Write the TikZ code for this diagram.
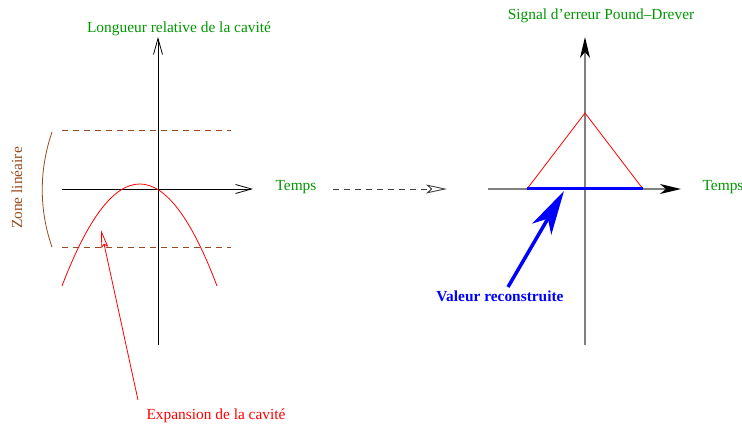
\documentclass[tikz,border=0pt]{standalone}
\usepackage{fontspec}
\setmainfont{Liberation Serif}
\usetikzlibrary{arrows.meta}
\definecolor{fgreen}{RGB}{0,150,0}
\definecolor{fbrown}{RGB}{150,75,30}
\begin{document}
\begin{tikzpicture}[x=1pt,y=-1pt,
  lbl/.style={font=\fontsize{15.4}{18}\selectfont, inner sep=0pt, anchor=base},
  gtxt/.style={lbl, text=fgreen},
  laxis/.style={black, line width=0.8pt, -{Straight Barb[length=16pt,width=9pt]}},
  raxis/.style={gray, line width=1.4pt, -{Stealth[black,length=21pt,width=10pt,inset=6pt]}},
  bound/.style={fbrown, dashed, dash pattern=on 6pt off 5pt, line width=1pt}]
\useasboundingbox (0,0) rectangle (742,425);
% ---- left graph
\coordinate (lb) at (158,345);
\coordinate (lt) at (158,37);
\coordinate (ll) at (62,189);
\coordinate (lr) at (253,189);
\draw[laxis] (lb) -- (lt);
\draw[laxis] (ll) -- (lr);
\node[gtxt] (ltitle) at (179,33) {Longueur relative de la cavité};
\node[gtxt] (ltemps) at (296,190) {Temps};
\coordinate (d1a) at (62,131);
\coordinate (d1b) at (231,131);
\coordinate (d2a) at (62,247);
\coordinate (d2b) at (231,247);
\draw[bound] (d1a) -- (d1b);
\draw[bound] (d2a) -- (d2b);
\coordinate (ba) at (52,132);
\coordinate (bb) at (52,247);
\draw[fbrown, line width=0.8pt] (ba) .. controls (39,170) and (39,210) .. (bb);
\node[lbl, text=fbrown, rotate=90] (zone) at (22,188) {Zone linéaire};
\coordinate (pa) at (62,286);
\coordinate (pb) at (217,286);
\draw[red, line width=0.8pt] (pa) .. controls (114,150) and (165.7,150) .. (pb);
\node[lbl, text=red] (exp) at (216,419) {Expansion de la cavité};
\coordinate (ea) at (138,400);
\coordinate (eb) at (101,230);
\draw[red, line width=0.8pt, -{Stealth[open,length=18pt,width=7pt,inset=3pt]}] (ea) -- (eb);
% ---- transfer arrow
\coordinate (ta) at (333,189);
\coordinate (tb) at (447,189);
\draw[black!75, line width=0.9pt, dashed, dash pattern=on 6pt off 5pt,
  -{Stealth[open,length=21pt,width=9pt,inset=5pt]}] (ta) -- (tb);
% ---- right graph
\coordinate (rb) at (585,345);
\coordinate (rt) at (585,37);
\coordinate (rl) at (488,189);
\coordinate (rr) at (681,189);
\draw[raxis] (rb) -- (rt);
\draw[raxis] (rl) -- (rr);
\node[gtxt] (rtitle) at (601,20) {Signal d\char39erreur Pound–Drever};
\node[gtxt] (rtemps) at (723,190) {Temps};
\coordinate (t1) at (527,189);
\coordinate (t2) at (585,113);
\coordinate (t3) at (643,189);
\draw[red, line width=0.8pt] (t1) -- (t2) -- (t3);
\draw[blue, line width=3pt] (t1) -- (t3);
\coordinate (va) at (508,287);
\coordinate (vb) at (564,191);
\draw[blue, line width=3.5pt, -{Stealth[length=44pt,width=22pt,inset=12pt]}] (va) -- (vb);
\node[lbl, text=blue, font=\fontsize{15.4}{18}\selectfont\bfseries] (val) at (500,301) {Valeur reconstruite};
\end{tikzpicture}
\end{document}
